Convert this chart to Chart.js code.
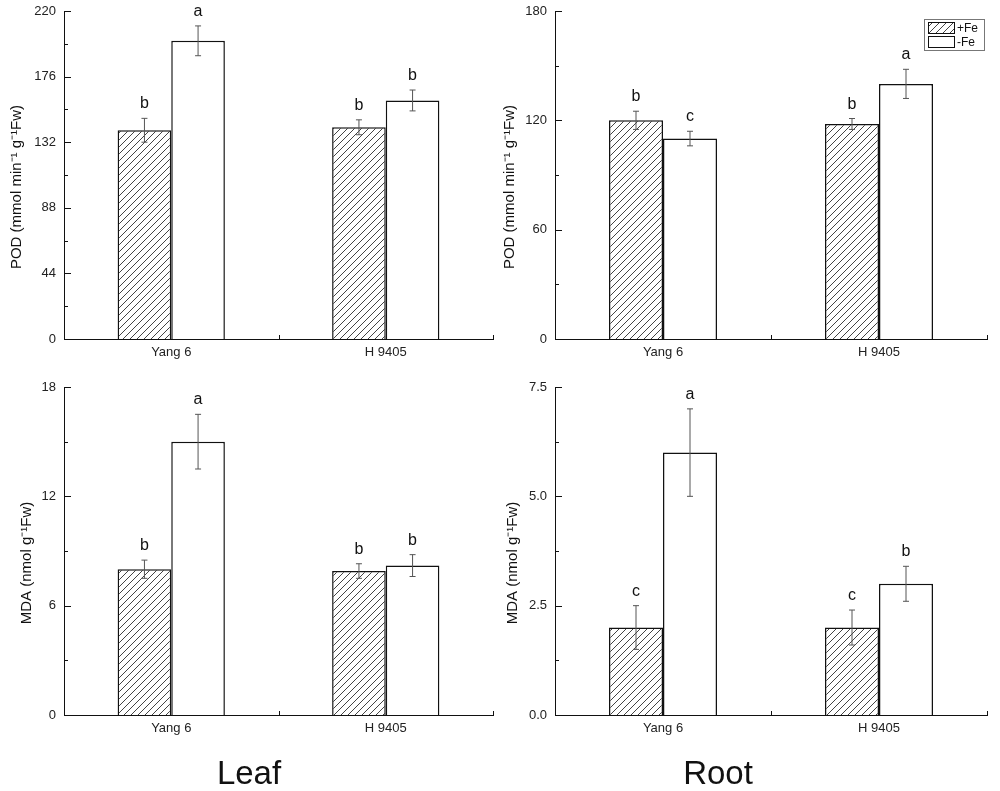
<!DOCTYPE html>
<html>
<head>
<meta charset="utf-8">
<script src="https://cdn.jsdelivr.net/npm/chart.js@4.4.1/dist/chart.umd.min.js"></script>
<style>
  body { margin: 0; background: #fff; }
  #page { position: relative; width: 1000px; height: 791px; }
  .panel { position: absolute; width: 500px; height: 370px; }
  .panel.low { height: 421px; }
  .tissue { position: absolute; font-family: "Liberation Sans", Arial, sans-serif; font-size: 33px; color: #111; transform: translateX(-50%); }
</style>
</head>
<body>
<div id="page">
  <div class="panel" style="left:0;top:0"><canvas id="leafPod"></canvas></div>
  <div class="panel" style="left:500px;top:0"><canvas id="rootPod"></canvas></div>
  <div class="panel low" style="left:0;top:370px"><canvas id="leafMda"></canvas></div>
  <div class="panel low" style="left:500px;top:370px"><canvas id="rootMda"></canvas></div>
  <div class="tissue" style="left:249px;top:754px">Leaf</div>
  <div class="tissue" style="left:718px;top:754px">Root</div>
</div>
<script>
const groups = ["Yang 6", "H 9405"];
const seriesNames = ["+Fe", "-Fe"];

// POD, leaf
const leafPodPlus = [140, 142];
const leafPodPlusErr = [8, 5];
const leafPodMinus = [200, 160];
const leafPodMinusErr = [10, 7];
const leafPodLetters = [["b", "b"], ["a", "b"]];
const leafPodTicks = [0, 44, 88, 132, 176, 220];

// POD, root
const rootPodPlus = [120, 118];
const rootPodPlusErr = [5, 3];
const rootPodMinus = [110, 140];
const rootPodMinusErr = [4, 8];
const rootPodLetters = [["b", "b"], ["c", "a"]];
const rootPodTicks = [0, 60, 120, 180];

// MDA, leaf
const leafMdaPlus = [8.0, 7.9];
const leafMdaPlusErr = [0.5, 0.4];
const leafMdaMinus = [15.0, 8.2];
const leafMdaMinusErr = [1.5, 0.6];
const leafMdaLetters = [["b", "b"], ["a", "b"]];
const leafMdaTicks = [0, 6, 12, 18];

// MDA, root
const rootMdaPlus = [2.0, 2.0];
const rootMdaPlusErr = [0.5, 0.4];
const rootMdaMinus = [6.0, 3.0];
const rootMdaMinusErr = [1.0, 0.4];
const rootMdaLetters = [["c", "c"], ["a", "b"]];
const rootMdaTicks = [0, 2.5, 5.0, 7.5];

const FONT = "'Liberation Sans', Arial, sans-serif";

// diagonal hatch for +Fe bars
function makeHatch() {
  const s = 7;
  const c = document.createElement("canvas");
  c.width = s; c.height = s;
  const g = c.getContext("2d");
  g.fillStyle = "#fff";
  g.fillRect(0, 0, s, s);
  g.strokeStyle = "#444";
  g.lineWidth = 1;
  g.beginPath();
  g.moveTo(-1, s + 1); g.lineTo(s + 1, -1);
  g.moveTo(-1, 1); g.lineTo(1, -1);
  g.moveTo(s - 1, s + 1); g.lineTo(s + 1, s - 1);
  g.stroke();
  return g.createPattern(c, "repeat");
}
const hatch = makeHatch();

// error bars, letters, inward ticks, y title, legend
const extras = {
  id: "extras",
  afterDatasetsDraw(chart) {
    const ctx = chart.ctx;
    const y = chart.scales.y;
    chart.data.datasets.forEach((ds, di) => {
      chart.getDatasetMeta(di).data.forEach((bar, i) => {
        const v = ds.data[i], e = ds.errors[i];
        const yt = y.getPixelForValue(v + e);
        const yb = y.getPixelForValue(v - e);
        ctx.save();
        ctx.strokeStyle = "#555";
        ctx.lineWidth = 1;
        ctx.beginPath();
        ctx.moveTo(bar.x, yt); ctx.lineTo(bar.x, yb);
        ctx.moveTo(bar.x - 3, yt); ctx.lineTo(bar.x + 3, yt);
        ctx.moveTo(bar.x - 3, yb); ctx.lineTo(bar.x + 3, yb);
        ctx.stroke();
        ctx.fillStyle = "#111";
        ctx.font = "16px " + FONT;
        ctx.textAlign = "center";
        ctx.textBaseline = "alphabetic";
        ctx.fillText(ds.letters[i], bar.x, yt - 10);
        ctx.restore();
      });
    });
  },
  afterDraw(chart) {
    const ctx = chart.ctx;
    const x = chart.scales.x, y = chart.scales.y;
    const area = chart.chartArea;
    const o = chart.options.plugins.extras;
    ctx.save();
    ctx.strokeStyle = "#111";
    ctx.lineWidth = 1;
    ctx.beginPath();
    const vals = y.ticks.map(t => t.value);
    vals.forEach((v, k) => {
      const py = Math.round(y.getPixelForValue(v)) + 0.5;
      ctx.moveTo(area.left, py); ctx.lineTo(area.left + 7, py);
      if (k < vals.length - 1) {
        const pm = Math.round(y.getPixelForValue((v + vals[k + 1]) / 2)) + 0.5;
        ctx.moveTo(area.left, pm); ctx.lineTo(area.left + 4, pm);
      }
    });
    const step = x.getPixelForValue(1) - x.getPixelForValue(0);
    for (let i = 0; i < groups.length; i++) {
      const px = Math.round(x.getPixelForValue(i) + step / 2) + 0.5;
      ctx.moveTo(px, area.bottom); ctx.lineTo(px, area.bottom - 4);
    }
    ctx.stroke();

    // rotated y-axis title, sitting a little below the middle as in the source figure
    ctx.save();
    ctx.translate(o.titleX, (area.top + area.bottom) / 2 + 12);
    ctx.rotate(-Math.PI / 2);
    ctx.fillStyle = "#111";
    ctx.font = "15px " + FONT;
    ctx.textAlign = "center";
    ctx.textBaseline = "middle";
    ctx.fillText(o.title, 0, 0);
    ctx.restore();

    if (o.legend) {
      const bw = 60, bh = 31;
      const lx = area.right - bw - 3, ly = area.top + 8;
      ctx.strokeStyle = "#777";
      ctx.strokeRect(lx + 0.5, ly + 0.5, bw, bh);
      chart.data.datasets.forEach((ds, di) => {
        const sy = ly + 3 + di * 14;
        ctx.fillStyle = ds.backgroundColor;
        ctx.fillRect(lx + 4, sy, 26, 11);
        ctx.strokeStyle = "#111";
        ctx.strokeRect(lx + 4.5, sy + 0.5, 26, 11);
        ctx.fillStyle = "#111";
        ctx.font = "12px " + FONT;
        ctx.textAlign = "left";
        ctx.textBaseline = "middle";
        ctx.fillText(ds.label, lx + 33, sy + 6.5);
      });
    }
    ctx.restore();
  }
};

function panel(id, plus, plusErr, minus, minusErr, letters, ticks, title, opt) {
  new Chart(document.getElementById(id), {
    type: "bar",
    data: {
      labels: groups,
      datasets: [
        { label: seriesNames[0], data: plus, errors: plusErr, letters: letters[0],
          backgroundColor: hatch, borderColor: "#111", borderWidth: 1.5 },
        { label: seriesNames[1], data: minus, errors: minusErr, letters: letters[1],
          backgroundColor: "#fff", borderColor: "#111", borderWidth: 1.5 }
      ]
    },
    options: {
      responsive: true,
      maintainAspectRatio: false,
      animation: false,
      layout: { padding: { top: opt.top, right: opt.right, left: 0, bottom: 0 } },
      plugins: {
        legend: { display: false },
        tooltip: { enabled: false },
        extras: { legend: !!opt.legend, title: title, titleX: opt.tx }
      },
      datasets: { bar: { categoryPercentage: 0.5, barPercentage: 1.0 } },
      scales: {
        x: {
          grid: { display: false, drawTicks: false },
          border: { display: true, color: "#111", width: 1 },
          ticks: { color: "#222", font: { family: FONT, size: 13 }, padding: 6 },
          afterFit: s => { s.height = opt.xh; s.paddingLeft = 0; s.paddingRight = 0; }
        },
        y: {
          min: ticks[0],
          max: ticks[ticks.length - 1],
          grid: { display: false, drawTicks: false },
          border: { display: true, color: "#111", width: 1 },
          ticks: {
            stepSize: ticks[1] - ticks[0],
            padding: 8,
            color: "#222",
            font: { family: FONT, size: 13 },
            callback: v => opt.fixed ? v.toFixed(1) : v
          },
          afterFit: s => { s.width = opt.yw; s.paddingTop = 0; s.paddingBottom = 0; }
        }
      }
    },
    plugins: [extras]
  });
}

panel("leafPod", leafPodPlus, leafPodPlusErr, leafPodMinus, leafPodMinusErr, leafPodLetters, leafPodTicks,
  "POD (mmol min\u207B\u00B9 g\u207B\u00B9Fw)", { top: 11, right: 7, xh: 31, yw: 64, tx: 17 });
panel("rootPod", rootPodPlus, rootPodPlusErr, rootPodMinus, rootPodMinusErr, rootPodLetters, rootPodTicks,
  "POD (mmol min\u207B\u00B9 g\u207B\u00B9Fw)", { top: 11, right: 13, xh: 31, yw: 55, tx: 10, legend: true });
panel("leafMda", leafMdaPlus, leafMdaPlusErr, leafMdaMinus, leafMdaMinusErr, leafMdaLetters, leafMdaTicks,
  "MDA (nmol g\u207B\u00B9Fw)", { top: 17, right: 7, xh: 76, yw: 64, tx: 27 });
panel("rootMda", rootMdaPlus, rootMdaPlusErr, rootMdaMinus, rootMdaMinusErr, rootMdaLetters, rootMdaTicks,
  "MDA (nmol g\u207B\u00B9Fw)", { top: 17, right: 13, xh: 76, yw: 55, tx: 13, fixed: true });
</script>
</body>
</html>
